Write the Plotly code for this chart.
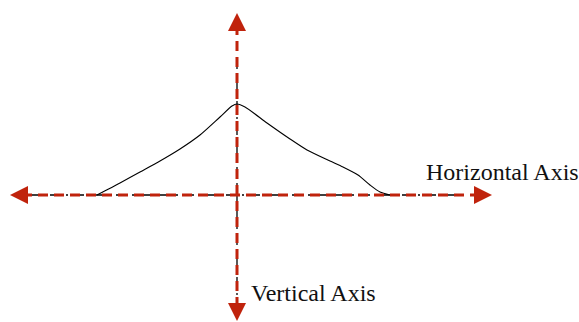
import plotly.graph_objects as go

# Curve data (x centred on the vertical axis, y above the horizontal axis)
curve_x = [-140, -117, -97, -77, -57, -37, -17, -5, 0, 8, 30, 53, 70, 93, 106, 121, 133, 143, 153]
curve_y = [0, 12, 23, 34, 46, 60, 78, 89, 91, 88, 72, 56, 45, 34, 28, 20, 10, 3, 0]

h_label = "Horizontal Axis"
v_label = "Vertical Axis"

RED = "#c0230c"
FONT = "Liberation Serif, Times New Roman, serif"

fig = go.Figure()

# black dash-dot axis lines
fig.add_shape(type="line", x0=-209, x1=228, y0=0, y1=0,
              line=dict(color="black", width=1.3, dash="12px,4px,2px,4px"))
fig.add_shape(type="line", x0=0, x1=0, y0=138, y1=-110,
              line=dict(color="black", width=1.3, dash="12px,4px,2px,4px"))

fig.add_trace(go.Scatter(x=curve_x, y=curve_y, mode="lines",
                         line=dict(color="black", width=1.1, shape="spline", smoothing=0.7),
                         hoverinfo="skip", showlegend=False))

# red dashed arrows
fig.add_shape(type="line", x0=-215, x1=243, y0=0, y1=0,
              line=dict(color=RED, width=3, dash="10px,6px"))
fig.add_shape(type="line", x0=0, x1=0, y0=170, y1=-115,
              line=dict(color=RED, width=3, dash="10px,6px"))

for (x, y, ax, ay) in [(-227, 0, 16, 0), (255, 0, -16, 0), (0, 182, 0, 16), (0, -126, 0, -16)]:
    fig.add_annotation(x=x, y=y, ax=ax, ay=ay, axref="pixel", ayref="pixel",
                       showarrow=True, arrowhead=2, arrowsize=1.2, arrowwidth=3,
                       arrowcolor=RED, text="")

fig.add_annotation(x=187, y=23, text=h_label, showarrow=False, xanchor="left", yanchor="middle",
                   font=dict(family=FONT, size=24, color="#111"))
fig.add_annotation(x=12, y=-98, text=v_label, showarrow=False, xanchor="left", yanchor="middle",
                   font=dict(family=FONT, size=24, color="#111"))

fig.update_layout(width=579, height=322, margin=dict(l=0, r=0, t=0, b=0),
                  paper_bgcolor="white", plot_bgcolor="white", showlegend=False,
                  xaxis=dict(range=[-237, 342], visible=False),
                  yaxis=dict(range=[-127, 195], visible=False))

fig.write_html("out.html", config={"displayModeBar": False},
               post_script="document.body.style.margin='0';document.body.style.overflow='hidden';")
